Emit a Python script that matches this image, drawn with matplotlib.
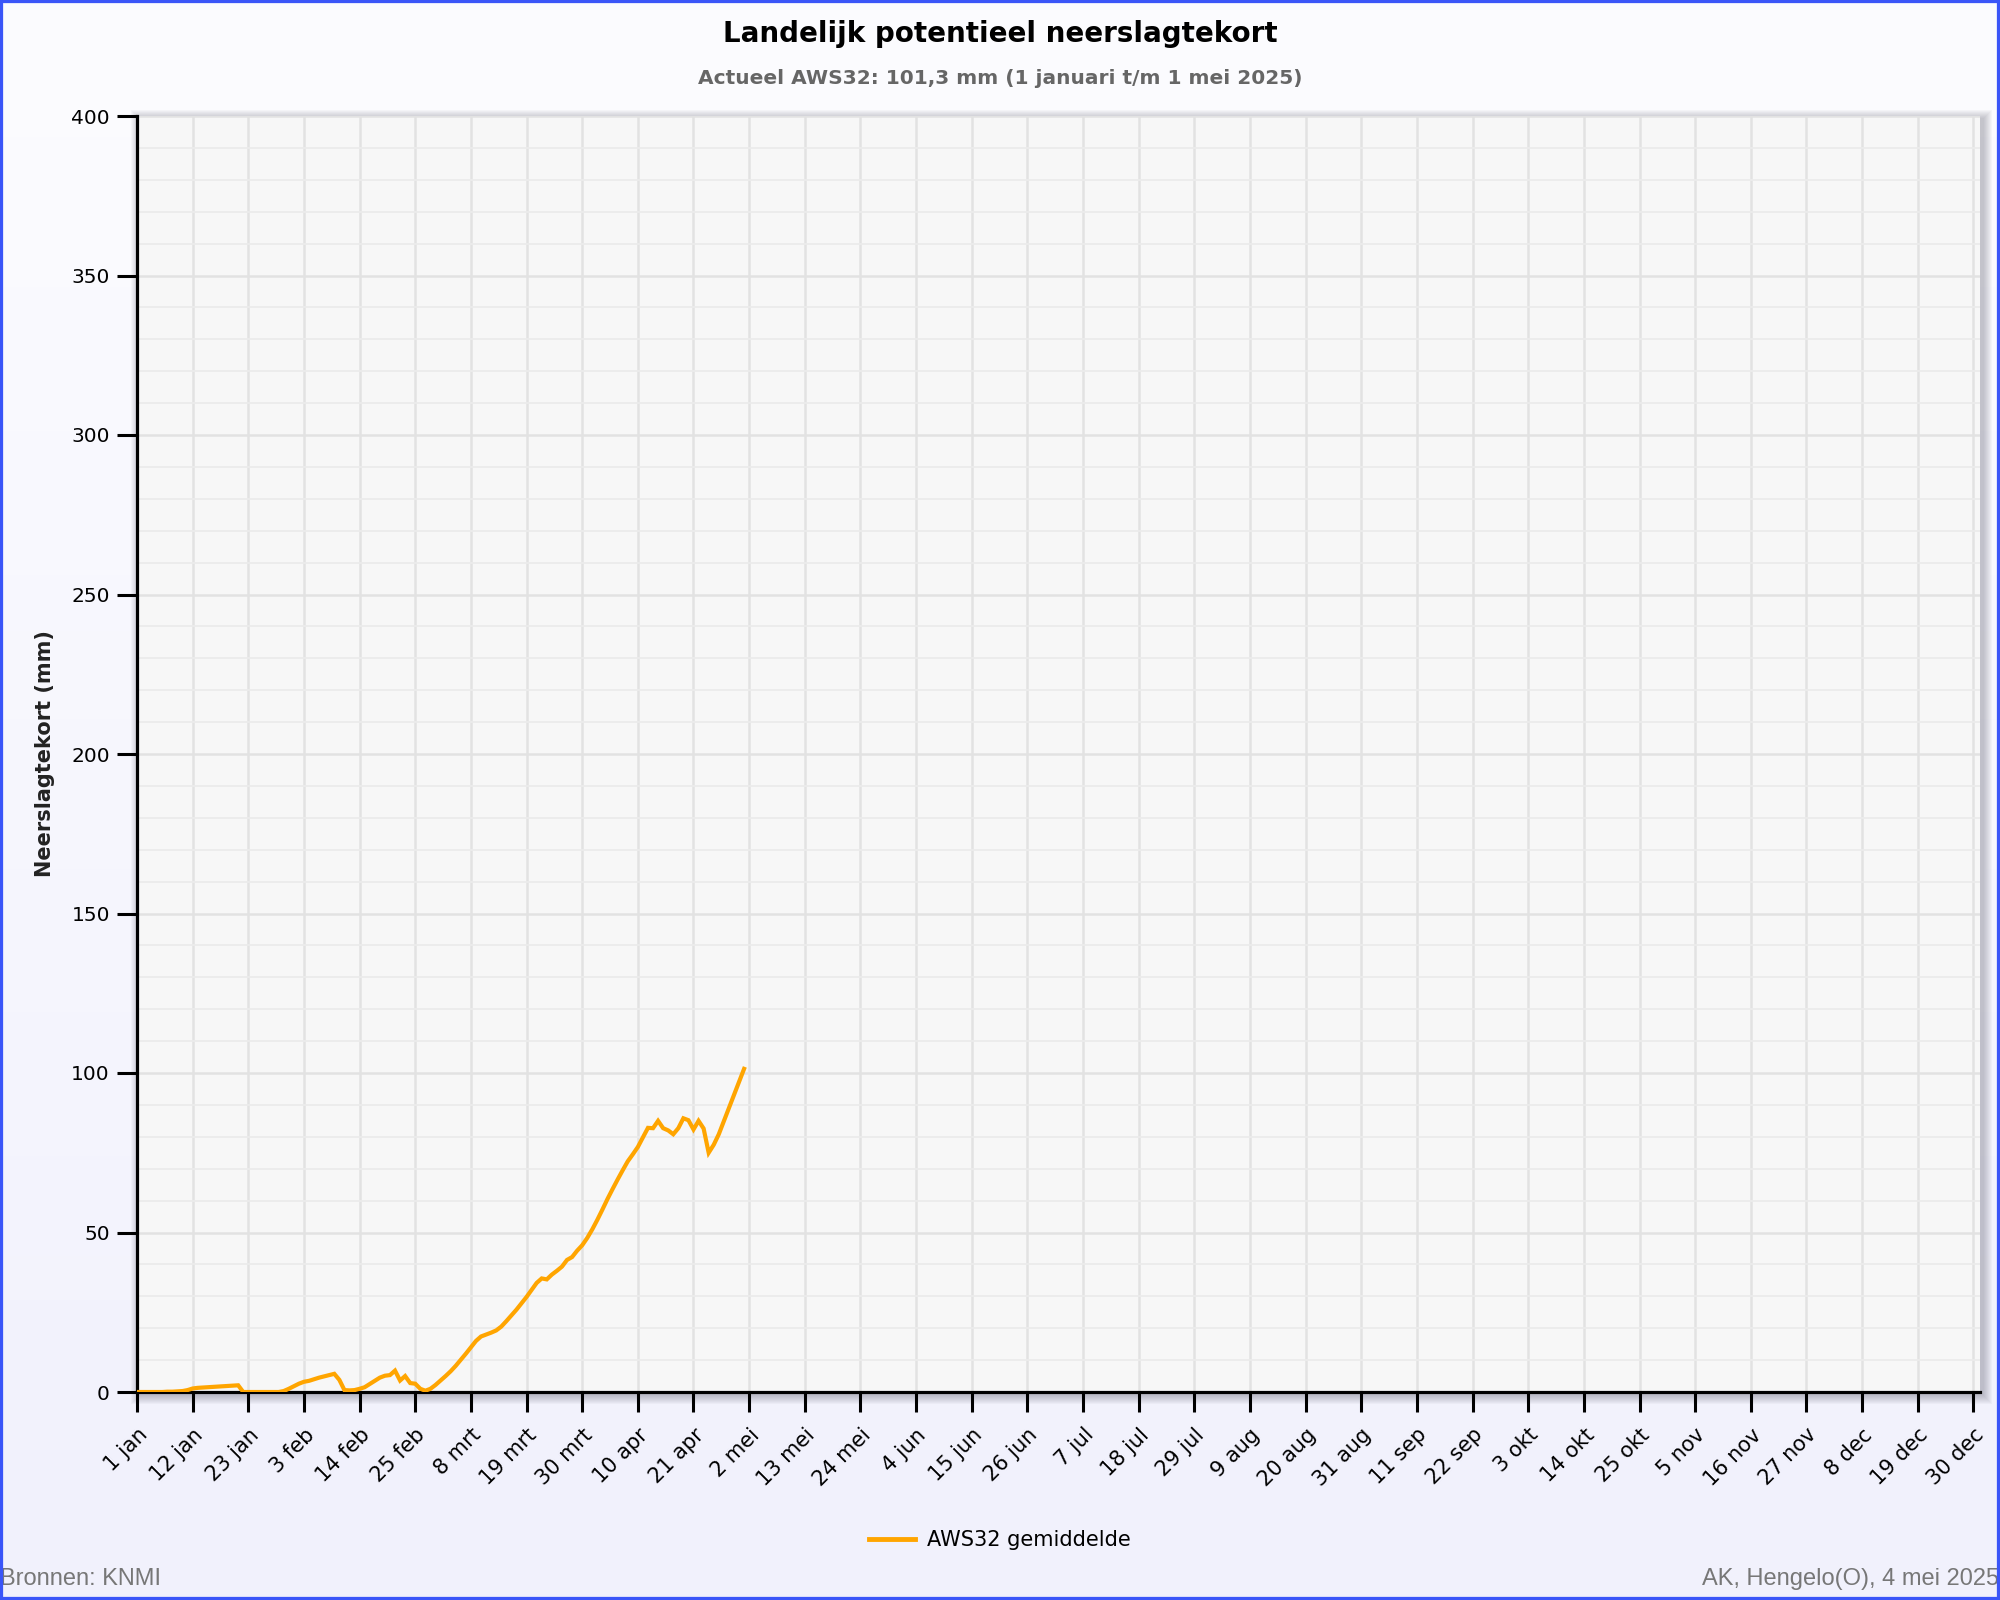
import datetime
import matplotlib
matplotlib.use('Agg')
import matplotlib.pyplot as plt
import matplotlib.ticker as mticker
from matplotlib.patches import Rectangle
import numpy as np

# Data: daily precipitation deficit (mm), day 0 = 1 jan 2025, up to 1 mei
deficit = [
    0.0, 0.0, 0.0, 0.0, 0.0, 0.0, 0.1, 0.1, 0.2, 0.3,
    0.6, 1.1, 1.3, 1.4, 1.5, 1.6, 1.7, 1.8, 1.9, 2.0,
    2.1, 0.0, 0.0, 0.0, 0.0, 0.0, 0.0, 0.0, 0.0, 0.3,
    1.0, 1.8, 2.6, 3.2, 3.5, 4.0, 4.5, 4.9, 5.3, 5.7,
    3.8, 0.6, 0.5, 0.6, 1.0, 1.5, 2.5, 3.5, 4.5, 5.1,
    5.3, 6.7, 3.6, 5.0, 2.8, 2.6, 1.0, 0.4, 1.0, 2.2,
    3.6, 5.0, 6.5, 8.2, 10.1, 12.0, 14.0, 16.0, 17.4, 18.0,
    18.6, 19.3, 20.5, 22.2, 24.0, 25.8, 27.8, 29.8, 32.0, 34.2,
    35.6, 35.3, 36.8, 38.0, 39.3, 41.4, 42.3, 44.3, 46.0, 48.3,
    51.0, 54.0, 57.2, 60.5, 63.6, 66.6, 69.5, 72.3, 74.5, 76.8,
    79.8, 82.8, 82.7, 85.0, 82.7, 82.0, 80.8, 82.7, 85.8, 85.2,
    82.3, 85.0, 82.6, 75.0, 77.5, 80.8, 84.9, 89.0, 93.1, 97.2,
    101.3,
]
days = np.arange(len(deficit))

month_names = ['jan', 'feb', 'mrt', 'apr', 'mei', 'jun',
               'jul', 'aug', 'sep', 'okt', 'nov', 'dec']
tick_days = list(range(0, 364, 11))
start = datetime.date(2025, 1, 1)
tick_labels = []
for d in tick_days:
    dt = start + datetime.timedelta(days=d)
    tick_labels.append('%d %s' % (dt.day, month_names[dt.month - 1]))

title = 'Landelijk potentieel neerslagtekort'
subtitle = 'Actueel AWS32: 101,3 mm (1 januari t/m 1 mei 2025)'

plt.rcParams['font.family'] = 'DejaVu Sans'

W, H = 2000, 1600
fig = plt.figure(figsize=(20, 16), dpi=100)

# background gradient
bg = fig.add_axes([0, 0, 1, 1], zorder=-10)
grad = np.linspace(0, 1, 256).reshape(-1, 1)
top_c = np.array([0.988, 0.988, 1.0])
bot_c = np.array([0.945, 0.945, 0.99])
img = top_c[None, None, :] * (1 - grad[:, :, None]) + bot_c[None, None, :] * grad[:, :, None]
bg.imshow(img, aspect='auto', extent=[0, 1, 0, 1])
bg.set_xlim(0, 1)
bg.set_ylim(0, 1)
bg.axis('off')

# plot area in pixels
x0, x1 = 137, 1980
y_top, y_bot = 116, 1392
ax_rect = [x0 / W, 1 - y_bot / H, (x1 - x0) / W, (y_bot - y_top) / H]

# soft drop shadow around plot area (shifted a little right/down)
for r in range(9, 0, -1):
    fig.patches.append(Rectangle(((x0 - r + 3) / W, 1 - (y_bot + r + 3) / H),
                                 (x1 - x0 + 2 * r) / W, (y_bot - y_top + 2 * r) / H,
                                 transform=fig.transFigure, facecolor='#505060',
                                 alpha=0.04, edgecolor='none', zorder=-5))

ax = fig.add_axes(ax_rect)
ax.set_facecolor('#f7f7f7')

ax.plot(days, deficit, color='#ffa500', linewidth=3.0, label='AWS32 gemiddelde',
        solid_joinstyle='miter', zorder=3)

ax.set_xlim(0, 364.3)
ax.set_ylim(0, 400)

ax.set_xticks(tick_days)
ax.set_xticklabels(tick_labels, rotation=45, ha='right', rotation_mode='anchor', fontsize=15)
ax.yaxis.set_major_locator(mticker.MultipleLocator(50))
ax.yaxis.set_minor_locator(mticker.MultipleLocator(10))
for lab in ax.get_yticklabels():
    lab.set_fontsize(14.5)

ax.tick_params(axis='both', which='major', direction='out', length=14.5, width=2.2, color='black')
ax.tick_params(axis='x', pad=9)
ax.tick_params(axis='y', which='minor', length=0)
ax.tick_params(axis='y', pad=5)

ax.grid(which='major', axis='both', color='#e2e2e2', linewidth=1.8, zorder=0)
ax.grid(which='minor', axis='y', color='#ebebeb', linewidth=1.3, zorder=0)
ax.set_axisbelow(True)

for side in ['top', 'right']:
    ax.spines[side].set_visible(False)
for side in ['left', 'bottom']:
    ax.spines[side].set_linewidth(2.3)
    ax.spines[side].set_color('black')

ax.set_ylabel('Neerslagtekort (mm)', fontsize=15, fontweight='bold', color='#222222', labelpad=12)

fig.text(0.5, 0.979, title, ha='center', va='center', fontsize=20, fontweight='bold', color='black')
fig.text(0.5, 0.951, subtitle, ha='center', va='center', fontsize=14.5, fontweight='bold', color='#666666')

leg = fig.legend(loc='center', bbox_to_anchor=(0.5, 0.0375), frameon=False, fontsize=15,
                 handlelength=2.2, handletextpad=0.6)
for h in leg.get_lines():
    h.set_linewidth(3.5)

fig.text(0.0, 0.0065, 'Bronnen: KNMI', ha='left', va='bottom', fontsize=17,
         family='Liberation Sans', color='#777777')
fig.text(0.9995, 0.0065, 'AK, Hengelo(O), 4 mei 2025', ha='right', va='bottom', fontsize=17,
         family='Liberation Sans', color='#777777')

# blue frame
fig.patches.append(Rectangle((0, 0), 1, 1, transform=fig.transFigure, fill=False,
                             edgecolor='#3a55f8', linewidth=4.5, zorder=10))

fig.savefig('out.png', dpi=100)
